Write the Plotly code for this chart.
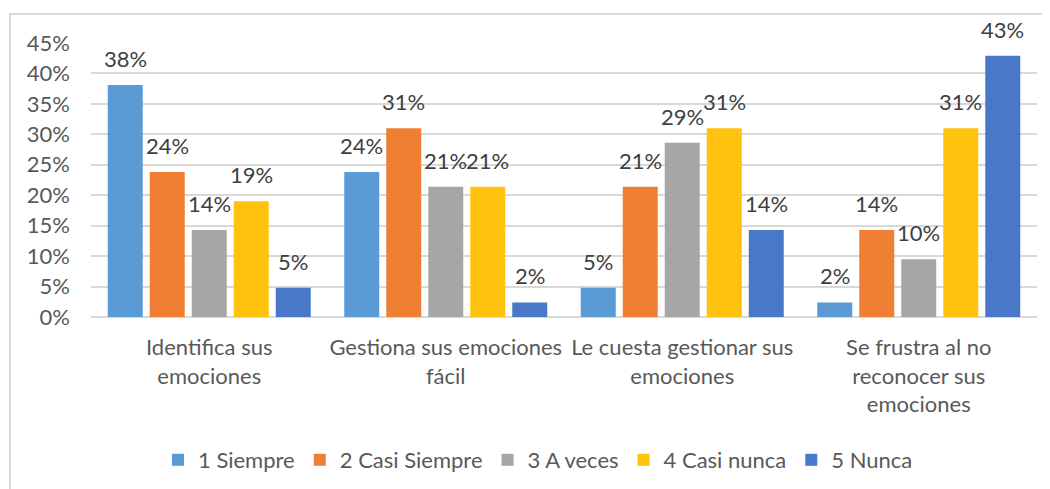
import plotly.graph_objects as go

categories = [
    "Identifica sus<br>emociones",
    "Gestiona sus emociones<br>fácil",
    "Le cuesta gestionar sus<br>emociones",
    "Se frustra al no<br>reconocer sus<br>emociones",
]
series_names = ["1 Siempre", "2 Casi Siempre", "3 A veces", "4 Casi nunca", "5 Nunca"]
siempre = [38.1, 23.8, 4.8, 2.4]
casi_siempre = [23.8, 31.0, 21.4, 14.3]
a_veces = [14.3, 21.4, 28.6, 9.5]
casi_nunca = [19.0, 21.4, 31.0, 31.0]
nunca = [4.8, 2.4, 14.3, 42.9]
series_values = [siempre, casi_siempre, a_veces, casi_nunca, nunca]
colors = ["#5B9BD5", "#EF7F33", "#A6A6A6", "#FFC20E", "#4A78C8"]
y_ticks = [0, 5, 10, 15, 20, 25, 30, 35, 40, 45]
y_tick_labels = [f"{v}%" for v in y_ticks]

FONT = "Lato"
FS = 22
# page body adds an 8px offset; size the figure so it fits the 1050x489 window
OFF = 8
W, H = 1050 - OFF, 489 - OFF
L, R, T, B = 91 - OFF, 13, 43 - OFF, 172
pw, ph = W - L - R, H - T - B
BARGAP, GROUPGAP = 0.112, 0.167
slot_px = pw / len(categories) * (1 - BARGAP) / len(series_names)

fig = go.Figure()
annotations = []
for i, (name, vals, col) in enumerate(zip(series_names, series_values, colors)):
    fig.add_trace(go.Bar(
        x=categories, y=vals, name=name,
        marker=dict(color=col, line=dict(width=0)),
    ))
    for cat, v in zip(categories, vals):
        annotations.append(dict(
            x=cat, y=v, xref="x", yref="y", text=f"{v:.0f}%", showarrow=False,
            xshift=(i - (len(series_names) - 1) / 2) * slot_px,
            yanchor="bottom", yshift=11,
            font=dict(family=FONT, size=FS, color="#404040"),
        ))

fig.update_layout(
    template="none",
    width=W, height=H,
    margin=dict(l=L, r=R, t=T, b=B, autoexpand=False),
    paper_bgcolor="white", plot_bgcolor="white",
    barmode="group", bargap=BARGAP, bargroupgap=GROUPGAP,
    font=dict(family=FONT, size=FS, color="#595959"),
    showlegend=True,
    legend=dict(
        orientation="h", xanchor="center", yanchor="middle",
        x=(538 - OFF - L) / pw, y=(T + ph - (460 - OFF)) / ph,
        font=dict(family=FONT, size=FS, color="#595959"),
        itemwidth=30, traceorder="normal", bgcolor="rgba(0,0,0,0)",
    ),
    xaxis=dict(
        automargin=False,
        showgrid=False, showline=False, ticks="", zeroline=False,
        tickfont=dict(family=FONT, size=FS, color="#595959"),
        ticklabelstandoff=15,
    ),
    yaxis=dict(
        automargin=False,
        range=[0, 45], tickvals=y_ticks, ticktext=y_tick_labels,
        showgrid=True, gridcolor="#D9D9D9", gridwidth=1.5,
        zeroline=True, zerolinecolor="#D9D9D9", zerolinewidth=1.5,
        showline=False, ticks="",
        tickfont=dict(family=FONT, size=FS, color="#595959"),
        ticklabelstandoff=20,
    ),
    annotations=annotations,
    shapes=[dict(
        type="rect", xref="paper", yref="paper",
        x0=(10 - OFF - L) / pw, x1=(W + 10 - L) / pw,
        y0=(T + ph - (H + 10)) / ph, y1=1 + (T - (14 - OFF)) / ph,
        line=dict(color="#D9D9D9", width=2), fillcolor="rgba(0,0,0,0)", layer="below",
    )],
)

fig.write_html("out.html")
